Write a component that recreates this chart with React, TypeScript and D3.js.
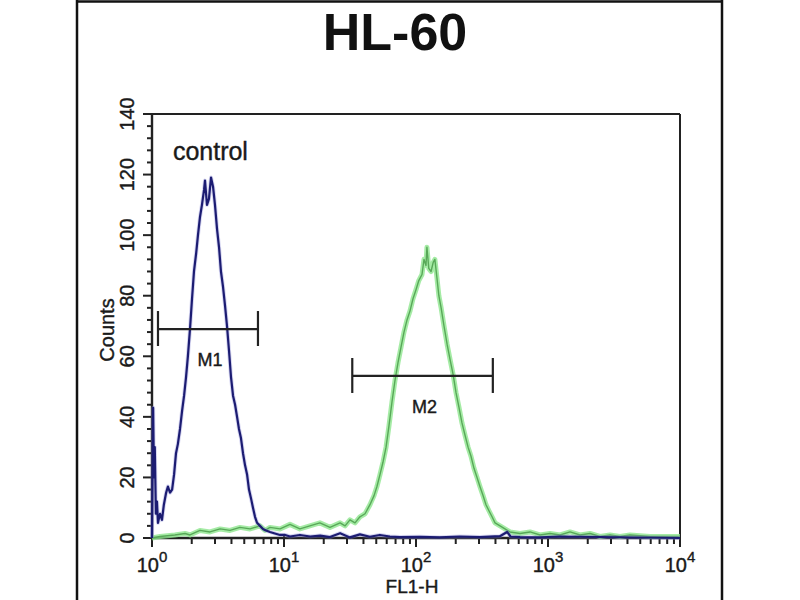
import * as d3 from 'd3';

// FL1-H channel value, counts
const controlFL1 = [1.0, 1.02, 1.035, 1.05, 1.07, 1.09, 1.11, 1.15, 1.19, 1.23, 1.28, 1.32, 1.37, 1.42, 1.47, 1.52, 1.57, 1.63, 1.69, 1.75, 1.81, 1.87, 1.94, 2.01, 2.08, 2.16, 2.23, 2.31, 2.39, 2.48, 2.52, 2.61, 2.7, 2.8, 2.9, 3.0, 3.11, 3.22, 3.33, 3.45, 3.57, 3.7, 3.83, 3.97, 4.11, 4.26, 4.41, 4.56, 4.72, 4.89, 5.07, 5.25, 5.43, 5.63, 5.82, 6.03, 6.25, 6.58, 6.93, 7.3, 7.83, 8.53, 9.33, 10.2, 11.1, 13.2, 15.8, 18.8, 22.3, 26.6, 31.6, 37.6, 44.7, 53.2, 63.4, 75.5, 107, 151, 214, 305, 432, 490, 520, 614, 870, 1230, 10000];
const controlCounts = [0, 43, 20, 30, 8, 12, 5, 8, 6, 11, 15, 17, 15, 16, 21, 28, 31, 36, 42, 47, 53, 60, 69, 79, 88, 94, 100, 106, 110, 115, 118, 110, 112, 119, 116, 110, 102, 96, 88, 83, 77, 70, 62, 53, 47, 44, 40, 36, 33, 28, 24, 21, 16, 13, 10, 7, 5, 4, 3, 2.5, 2, 1.5, 1, 1, 0.5, 1, 0.5, 0.8, 0.3, 1.6, 0.2, 1.2, 0.4, 1, 0.5, 0.3, 0.4, 0.2, 0.5, 0.3, 0.6, 2, 0.5, 0.3, 0.2, 0.5, 0];

const sampleFL1 = [1.0, 1.15, 1.49, 1.78, 1.94, 2.31, 2.75, 3.28, 3.9, 4.64, 5.53, 6.58, 7.18, 7.83, 9.33, 11.1, 13.2, 15.7, 18.7, 22.3, 26.6, 29.0, 31.6, 34.5, 37.6, 41.1, 44.8, 48.1, 50.6, 53.4, 56.2, 59.3, 62.4, 65.8, 69.3, 73.1, 77.0, 81.1, 85.5, 90.1, 94.9, 100, 105, 111, 115, 119, 121, 125, 130, 135, 139, 144, 149, 155, 163, 172, 181, 191, 201, 212, 223, 235, 248, 261, 275, 290, 305, 322, 339, 357, 377, 397, 433, 472, 515, 614, 731, 870, 1036, 1233, 1468, 1748, 2081, 2477, 2949, 3512, 4180, 5927, 10000];
const sampleCounts = [0, 0.5, 1, 1.5, 1, 2.5, 2, 3, 2.5, 3.5, 3, 4, 2.5, 3.5, 3, 4.5, 3, 4, 5, 3.5, 5, 4, 6, 5, 7, 8, 11, 14, 17, 21, 25, 30, 37, 45, 52, 58, 63, 68, 72, 75, 79, 82, 85, 87, 92, 90, 96, 89, 88, 91, 92, 86, 80, 76, 70, 64, 59, 54, 48, 43, 38, 34, 30, 27, 23, 20, 17, 14, 11, 9, 7, 5, 4, 3, 2, 1.5, 2, 1, 1.5, 1, 2, 1, 1.5, 0.5, 1, 0.5, 1, 0.5, 0.5];

const markerLabels = ['M1', 'M2'];
const markerFrom = [1.11, 32.9];
const markerTo = [6.35, 382];
const markerLevel = [69, 53.5];

const yMajorTicks = [0, 20, 40, 60, 80, 100, 120, 140];
const xDecades = [1, 10, 100, 1000, 10000];
const xExponents = ['0', '1', '2', '3', '4'];

const FONT = '"Liberation Sans", Arial, sans-serif';
const INK = '#1a1a1a';

export default function App() {
  const x = d3.scaleLog().domain([1, 10000]).range([152, 680]);
  const y = d3.scaleLinear().domain([0, 140]).range([538, 114]);

  const line = d3.line<[number, number]>()
    .x(d => x(d[0]))
    .y(d => y(d[1]));

  const controlPath = line(controlFL1.map((v, i) => [v, controlCounts[i]] as [number, number])) || '';
  const samplePath = line(sampleFL1.map((v, i) => [v, sampleCounts[i]] as [number, number])) || '';

  const xMinor = x.ticks().filter(t => !xDecades.includes(t));
  const yMinor = d3.range(0, 141, 4).filter(t => !yMajorTicks.includes(t));

  const [x0, x1] = x.range();
  const [yb, yt] = y.range();

  // slight stroke on text to mimic the heavy, blurred print of the original
  const txt = { fill: INK, stroke: INK, strokeWidth: 0.4 };

  return (
    <div style={{ position: 'absolute', left: 0, top: 0 }}>
      <svg width={800} height={600} style={{ display: 'block', background: '#fff' }} fontFamily={FONT}>
        {/* outer frame */}
        <line x1={77} x2={77} y1={0} y2={600} stroke="#111" strokeWidth={2.5} />
        <line x1={722} x2={722} y1={0} y2={600} stroke="#111" strokeWidth={2.5} />
        <line x1={77} x2={722} y1={1.5} y2={1.5} stroke="#111" strokeWidth={2.5} />

        <text x={395} y={50} textAnchor="middle" fontSize={52} fontWeight="bold" fill="#111">HL-60</text>

        {/* plot box */}
        <line x1={x0} x2={x1} y1={yt} y2={yt} stroke="#222" strokeWidth={2} />
        <line x1={x1} x2={x1} y1={yt} y2={yb} stroke="#222" strokeWidth={2} />

        {/* y axis */}
        <line x1={x0} x2={x0} y1={yt} y2={yb} stroke="#222" strokeWidth={2.4} />
        {yMinor.map(t => (
          <line key={'ym' + t} x1={x0 - 5} x2={x0} y1={y(t)} y2={y(t)} stroke="#222" strokeWidth={2} />
        ))}
        {yMajorTicks.map(t => (
          <g key={'yM' + t}>
            <line x1={x0 - 9} x2={x0} y1={y(t)} y2={y(t)} stroke="#222" strokeWidth={2} />
            <text transform={`translate(134,${y(t)}) rotate(-90)`} textAnchor="middle" fontSize={20} {...txt}>{t}</text>
          </g>
        ))}
        <text transform={`translate(114,330) rotate(-90)`} textAnchor="middle" fontSize={20} {...txt}>Counts</text>

        {/* x axis */}
        <line x1={x0} x2={x1} y1={yb} y2={yb} stroke="#222" strokeWidth={2.4} />
        {xMinor.map(t => (
          <line key={'xm' + t} x1={x(t)} x2={x(t)} y1={yb} y2={yb + 6} stroke="#222" strokeWidth={2} />
        ))}
        {xDecades.map((t, i) => (
          <g key={'xM' + t}>
            <line x1={x(t)} x2={x(t)} y1={yb - 2} y2={yb + 9} stroke="#222" strokeWidth={2} />
            <text x={x(t)} y={572} textAnchor="middle" fontSize={20} {...txt}>
              10<tspan fontSize={15} dy={-10}>{xExponents[i]}</tspan>
            </text>
          </g>
        ))}
        <text x={412} y={593} textAnchor="middle" fontSize={19} {...txt}>FL1-H</text>

        {/* histograms */}
        <path d={samplePath} fill="none" stroke="#8fe68f" strokeWidth={5} strokeLinejoin="round" opacity={0.8} />
        <path d={samplePath} fill="none" stroke="#58a858" strokeWidth={1.4} strokeLinejoin="round" />
        <path d={controlPath} fill="none" stroke="#8a8ad8" strokeWidth={4} strokeLinejoin="round" opacity={0.35} />
        <path d={controlPath} fill="none" stroke="#1c1c72" strokeWidth={2.2} strokeLinejoin="round" />

        {/* markers */}
        {markerLabels.map((m, i) => {
          const a = x(markerFrom[i]);
          const b = x(markerTo[i]);
          const h = y(markerLevel[i]);
          const cx = x(Math.sqrt(markerFrom[i] * markerTo[i]));
          return (
            <g key={m}>
              <line x1={a} x2={b} y1={h} y2={h} stroke="#222" strokeWidth={2.2} />
              <line x1={a} x2={a} y1={h - 18} y2={h + 17} stroke="#222" strokeWidth={2.2} />
              <line x1={b} x2={b} y1={h - 18} y2={h + 17} stroke="#222" strokeWidth={2.2} />
              <text x={cx + 2} y={h + 37} textAnchor="middle" fontSize={18} {...txt}>{m}</text>
            </g>
          );
        })}

        <text x={x(1.44)} y={160} fontSize={25} {...txt}>control</text>
      </svg>
    </div>
  );
}
